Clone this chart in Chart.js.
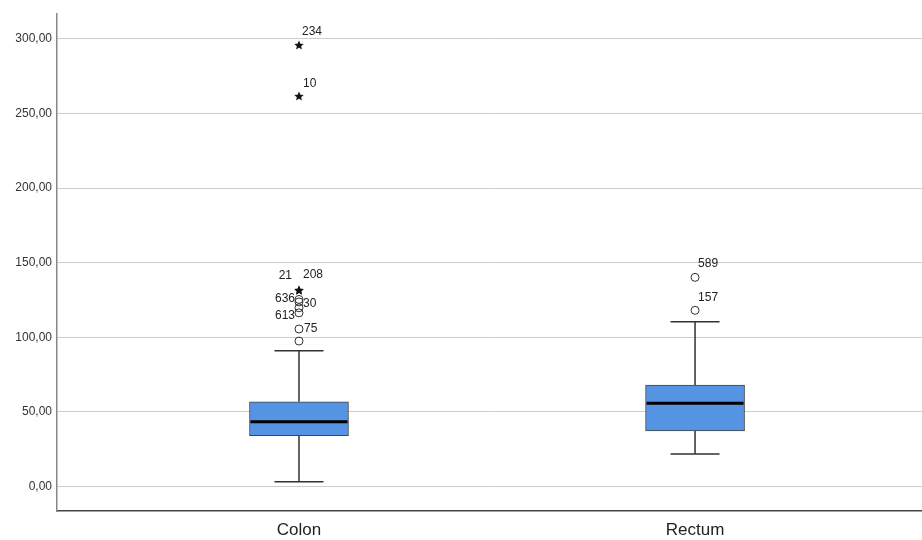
<!DOCTYPE html>
<html>
<head>
<meta charset="utf-8">
<script src="https://cdn.jsdelivr.net/npm/chart.js@4.4.1/dist/chart.umd.min.js"></script>
<style>
  body { margin: 0; background: #fff; }
  canvas { display: block; }
</style>
</head>
<body>
<canvas id="boxChart" width="922" height="540"></canvas>
<script>
// Groepen en box-waarden
const groups = ["Colon", "Rectum"];
const q1 = [34.1, 37.2];
const median = [43.4, 55.8];
const q3 = [56.8, 68.0];
const whiskerLow = [3.2, 21.8];
const whiskerHigh = [91.0, 110.5];

// Uitschieters (cirkels)
const outlierGroup = [1, 1, 1, 1, 1, 1, 2, 2];
const outlierValue = [125.4, 123.7, 119.8, 116.4, 105.6, 97.5, 140.2, 118.1];
const outlierCase = ["636", "30", "", "613", "75", "", "589", "157"];

// Extreme waarden (sterren)
const extremeGroup = [1, 1, 1, 1];
const extremeValue = [296.0, 261.8, 131.7, 131.7];
const extremeCase = ["234", "10", "208", "21"];

// Y-as ticks
const yTicks = [0, 50, 100, 150, 200, 250, 300];

// Waar de labels naast de punten komen
const labelPlacement = {
  "234": { side: "right", dx: 3, dy: -13 },
  "10":  { side: "right", dx: 4, dy: -12 },
  "208": { side: "right", dx: 4, dy: -15 },
  "21":  { side: "left",  dx: -7, dy: -14 },
  "636": { side: "left",  dx: -4, dy: -1 },
  "30":  { side: "right", dx: 4, dy: 2 },
  "613": { side: "left",  dx: -4, dy: 3 },
  "75":  { side: "right", dx: 5, dy: 0 },
  "589": { side: "right", dx: 3, dy: -14 },
  "157": { side: "right", dx: 3, dy: -13 }
};

// Gevulde ster als puntstijl
function makeStar(size) {
  const c = document.createElement("canvas");
  c.width = size; c.height = size;
  const g = c.getContext("2d");
  const r = size / 2, ri = r * 0.45;
  g.beginPath();
  for (let i = 0; i < 10; i++) {
    const rad = i % 2 === 0 ? r : ri;
    const a = -Math.PI / 2 + i * Math.PI / 5;
    const px = r + rad * Math.cos(a), py = r + 0.5 + rad * Math.sin(a);
    if (i === 0) g.moveTo(px, py); else g.lineTo(px, py);
  }
  g.closePath();
  g.fillStyle = "#111";
  g.fill();
  return c;
}
const starImg = makeStar(10);

const fmt = v => v.toFixed(2).replace(".", ",");

// Snorharen, mediaan en labels tekenen
const boxPlugin = {
  id: "boxWhiskers",
  afterDatasetsDraw(chart) {
    const { ctx, scales: { x, y } } = chart;
    ctx.save();
    groups.forEach((g, i) => {
      const cx = x.getPixelForValue(i + 1);
      const cap = 24.5;
      ctx.strokeStyle = "#333";
      ctx.lineWidth = 1.5;
      ctx.beginPath();
      ctx.moveTo(cx, y.getPixelForValue(q3[i]));
      ctx.lineTo(cx, y.getPixelForValue(whiskerHigh[i]));
      ctx.moveTo(cx - cap, y.getPixelForValue(whiskerHigh[i]));
      ctx.lineTo(cx + cap, y.getPixelForValue(whiskerHigh[i]));
      ctx.moveTo(cx, y.getPixelForValue(q1[i]));
      ctx.lineTo(cx, y.getPixelForValue(whiskerLow[i]));
      ctx.moveTo(cx - cap, y.getPixelForValue(whiskerLow[i]));
      ctx.lineTo(cx + cap, y.getPixelForValue(whiskerLow[i]));
      ctx.stroke();

      const bar = chart.getDatasetMeta(0).data[i];
      ctx.strokeStyle = "#000";
      ctx.lineWidth = 3;
      ctx.beginPath();
      ctx.moveTo(bar.x - bar.width / 2 + 1, y.getPixelForValue(median[i]));
      ctx.lineTo(bar.x + bar.width / 2 - 1, y.getPixelForValue(median[i]));
      ctx.stroke();
    });

    ctx.font = "12px 'Liberation Sans', Arial, sans-serif";
    ctx.fillStyle = "#222";
    ctx.textBaseline = "middle";
    [[1, outlierCase], [2, extremeCase]].forEach(([di, cases]) => {
      chart.getDatasetMeta(di).data.forEach((pt, j) => {
        const id = cases[j];
        if (!id) return;
        const p = labelPlacement[id] || { side: "right", dx: 4, dy: 0 };
        ctx.textAlign = p.side === "left" ? "right" : "left";
        ctx.fillText(id, pt.x + p.dx, pt.y + p.dy);
      });
    });
    ctx.restore();
  }
};

new Chart(document.getElementById("boxChart"), {
  type: "bar",
  data: {
    datasets: [
      {
        label: "box",
        data: groups.map((g, i) => ({ x: i + 1, y: [q1[i], q3[i]] })),
        backgroundColor: "#5594e3",
        borderColor: "#444",
        borderWidth: 1,
        borderSkipped: false,
        barThickness: 99
      },
      {
        type: "scatter",
        label: "outliers",
        data: outlierValue.map((v, j) => ({ x: outlierGroup[j], y: v })),
        pointStyle: "circle",
        pointRadius: 4,
        borderColor: "#333",
        borderWidth: 1,
        backgroundColor: "rgba(255,255,255,0)"
      },
      {
        type: "scatter",
        label: "extremes",
        data: extremeValue.map((v, j) => ({ x: extremeGroup[j], y: v })),
        pointStyle: starImg
      }
    ]
  },
  options: {
    responsive: false,
    animation: false,
    layout: { autoPadding: false, padding: { top: 14, left: 0, right: 0, bottom: 0 } },
    plugins: { legend: { display: false }, tooltip: { enabled: false } },
    scales: {
      x: {
        type: "linear",
        min: 0.389,
        max: 2.573,
        offset: false,
        grid: { display: false, offset: false },
        border: { display: true, color: "#444", width: 1.5 },
        afterBuildTicks: s => { s.ticks = groups.map((g, i) => ({ value: i + 1 })); },
        afterFit: s => { s.height = 29; s.paddingLeft = 0; s.paddingRight = 0; },
        ticks: {
          padding: 1,
          color: "#222",
          font: { family: "'Liberation Sans', Arial, sans-serif", size: 17 },
          callback: v => groups[v - 1]
        }
      },
      y: {
        min: -16.4,
        max: 316.7,
        grid: { color: "#cccccc", lineWidth: 1, drawTicks: false },
        border: { display: true, color: "#888", width: 1.5 },
        afterBuildTicks: s => { s.ticks = yTicks.map(v => ({ value: v })); },
        afterFit: s => { s.width = 57; },
        ticks: {
          padding: 5,
          color: "#333",
          font: { family: "'Liberation Sans', Arial, sans-serif", size: 12 },
          callback: v => fmt(v)
        }
      }
    }
  },
  plugins: [boxPlugin]
});
</script>
</body>
</html>
